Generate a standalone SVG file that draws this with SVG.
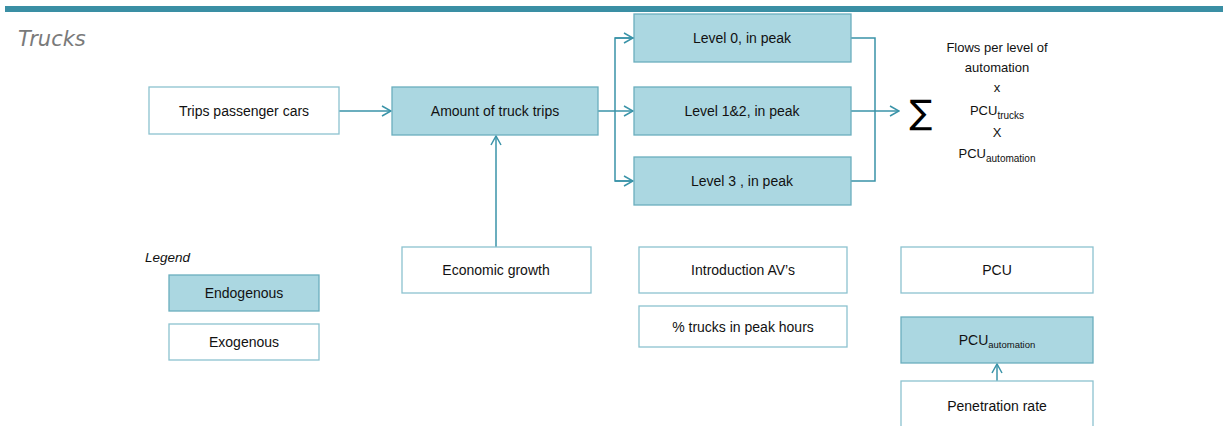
<svg xmlns="http://www.w3.org/2000/svg" width="1223" height="426" viewBox="0 0 1223 426">
<style>
.endo{fill:#abd7e1;stroke:#6aaebe;stroke-width:1.3}
.exo{fill:#ffffff;stroke:#8cc2cf;stroke-width:1.3}
.t{font-family:"Liberation Sans",Arial,sans-serif;font-size:14px;fill:#111;text-anchor:middle}
.s{font-family:"Liberation Sans",Arial,sans-serif;font-size:13px;fill:#111;text-anchor:middle}
.c{fill:none;stroke:#3a93a8;stroke-width:1.5}
</style>
<defs>
<marker id="arr" viewBox="0 0 12 12" refX="11" refY="6" markerWidth="12" markerHeight="12" markerUnits="userSpaceOnUse" orient="auto">
<path d="M2,1 L11,6 L2,11" fill="none" stroke="#3a93a8" stroke-width="1.5"/>
</marker>
</defs>
<rect x="5" y="6" width="1218" height="6" fill="#3a8fa4"/>
<text x="18" y="46" font-family="DejaVu Sans,Verdana,sans-serif" font-style="italic" font-size="21" fill="#7a7a7a">Trucks</text>

<g id="connectors">
<line class="c" x1="339" y1="111" x2="391" y2="111" marker-end="url(#arr)"/>
<line class="c" x1="598" y1="111" x2="633" y2="111" marker-end="url(#arr)"/>
<polyline class="c" points="634,38 615,38 615,181 633,181"/>
<line class="c" x1="615" y1="38" x2="633" y2="38" marker-end="url(#arr)"/>
<line class="c" x1="615" y1="181" x2="633" y2="181" marker-end="url(#arr)"/>
<polyline class="c" points="851,38 875,38 875,181 851,181"/>
<line class="c" x1="851" y1="111" x2="899" y2="111" marker-end="url(#arr)"/>
<line class="c" x1="496" y1="247" x2="496" y2="136" marker-end="url(#arr)"/>
<line class="c" x1="997" y1="381" x2="997" y2="364" marker-end="url(#arr)"/>
</g>

<g id="trips-passenger-cars"><rect class="exo" x="149" y="87" width="190" height="47"/><text class="t" x="244" y="116">Trips passenger cars</text></g>
<g id="amount-truck-trips"><rect class="endo" x="392" y="87" width="206" height="48"/><text class="t" x="495" y="116">Amount of truck trips</text></g>
<g id="level0"><rect class="endo" x="634" y="14" width="217" height="48"/><text class="t" x="742" y="43">Level 0, in peak</text></g>
<g id="level12"><rect class="endo" x="634" y="87" width="217" height="48"/><text class="t" x="742" y="116">Level 1&amp;2, in peak</text></g>
<g id="level3"><rect class="endo" x="634" y="157" width="217" height="48"/><text class="t" x="742" y="186">Level 3 , in peak</text></g>

<g id="sum">
<text x="921" y="124" font-family="DejaVu Sans,sans-serif" font-size="34" text-anchor="middle" fill="#000">∑</text>
<text class="s" x="997" y="52">Flows per level of</text>
<text class="s" x="997" y="72">automation</text>
<text class="s" x="997" y="92">x</text>
<text class="s" x="997" y="115">PCU<tspan font-size="10" dy="4">trucks</tspan></text>
<text class="s" x="997" y="137">X</text>
<text class="s" x="997" y="158">PCU<tspan font-size="10" dy="4">automation</tspan></text>
</g>

<g id="economic-growth"><rect class="exo" x="402" y="247" width="189" height="46"/><text class="t" x="496" y="275">Economic growth</text></g>
<g id="introduction-avs"><rect class="exo" x="639" y="247" width="208" height="46"/><text class="t" x="743" y="275">Introduction AV’s</text></g>
<g id="trucks-peak"><rect class="exo" x="639" y="306" width="208" height="41"/><text class="t" x="743" y="332">% trucks in peak hours</text></g>
<g id="pcu"><rect class="exo" x="901" y="247" width="192" height="46"/><text class="t" x="997" y="275">PCU</text></g>
<g id="pcu-automation"><rect class="endo" x="901" y="317" width="192" height="46"/><text class="t" x="997" y="345">PCU<tspan font-size="9.5" dy="3">automation</tspan></text></g>
<g id="penetration-rate"><rect class="exo" x="901" y="381" width="192" height="50"/><text class="t" x="997" y="411">Penetration rate</text></g>

<g id="legend">
<text x="145" y="262" font-family="Liberation Sans,Arial,sans-serif" font-style="italic" font-size="13.5" fill="#111">Legend</text>
<rect class="endo" x="169" y="275" width="150" height="36"/><text class="t" x="244" y="298">Endogenous</text>
<rect class="exo" x="169" y="324" width="150" height="36"/><text class="t" x="244" y="347">Exogenous</text>
</g>
</svg>
